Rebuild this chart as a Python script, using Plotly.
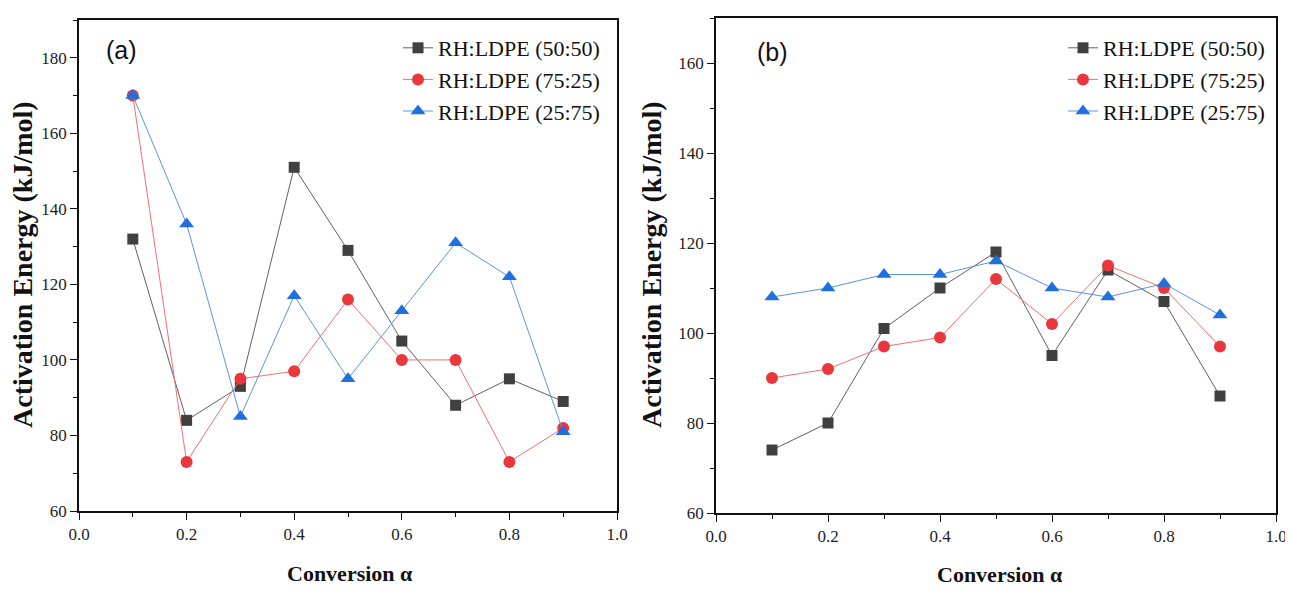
import plotly.graph_objects as go

conversion = [0.1, 0.2, 0.3, 0.4, 0.5, 0.6, 0.7, 0.8, 0.9]
series_names = ["RH:LDPE (50:50)", "RH:LDPE (75:25)", "RH:LDPE (25:75)"]

a_5050 = [132, 84, 93, 151, 129, 105, 88, 95, 89]
a_7525 = [170, 73, 95, 97, 116, 100, 100, 73, 82]
a_2575 = [170, 136, 85, 117, 95, 113, 131, 122, 81]

b_5050 = [74, 80, 101, 110, 118, 95, 114, 107, 86]
b_7525 = [90, 92, 97, 99, 112, 102, 115, 110, 97]
b_2575 = [108, 110, 113, 113, 116, 110, 108, 111, 104]

x_ticks = [0.0, 0.2, 0.4, 0.6, 0.8, 1.0]
x_tick_labels = ["0.0", "0.2", "0.4", "0.6", "0.8", "1.0"]
a_y_ticks = [60, 80, 100, 120, 140, 160, 180]
b_y_ticks = [60, 80, 100, 120, 140, 160]

styles = [
    dict(marker_color="#404040", line_color="#606060", symbol="square", size=11),
    dict(marker_color="#E8383D", line_color="#F07070", symbol="circle", size=12),
    dict(marker_color="#1F6FDE", line_color="#5A93E6", symbol="triangle-up", size=13),
]

fig = go.Figure()

panels = [
    ("x", "y", "legend", [a_5050, a_7525, a_2575]),
    ("x2", "y2", "legend2", [b_5050, b_7525, b_2575]),
]
for xa, ya, leg, data in panels:
    for name, vals, st in zip(series_names, data, styles):
        fig.add_trace(go.Scatter(
            x=conversion, y=vals, name=name, mode="lines+markers",
            xaxis=xa, yaxis=ya, legend=leg,
            line=dict(color=st["line_color"], width=1),
            marker=dict(color=st["marker_color"], symbol=st["symbol"], size=st["size"]),
        ))

tickfont = dict(family="Liberation Serif", size=17, color="#222")
xtitlefont = dict(family="Liberation Serif", size=22, color="#111")
ytitlefont = dict(family="Liberation Serif", size=28, color="#111")

# page has an 8px body margin; figure sized to fill the remaining window
OFF = 8
W, H = 1285, 581


def px(x):
    return (x - OFF) / W


def py(y):
    return 1 - (y - OFF) / H


def xaxis(domain, anchor):
    return dict(
        domain=domain, anchor=anchor, range=[0, 1], automargin=False,
        tickvals=x_ticks, ticktext=x_tick_labels,
        ticks="outside", ticklen=7, tickwidth=1.2, tickcolor="#111",
        minor=dict(dtick=0.1, ticks="outside", ticklen=4, tickcolor="#111", tickwidth=1),
        showline=True, linecolor="#111", linewidth=1.8, mirror=True,
        showgrid=False, zeroline=False, tickfont=tickfont,
    )


def yaxis(domain, anchor, rng, ticks):
    return dict(
        domain=domain, anchor=anchor, range=rng, automargin=False,
        tickvals=ticks,
        ticks="outside", ticklen=7, tickwidth=1.2, tickcolor="#111",
        minor=dict(dtick=10, ticks="outside", ticklen=4, tickcolor="#111", tickwidth=1),
        showline=True, linecolor="#111", linewidth=1.8, mirror=True,
        showgrid=False, zeroline=False, tickfont=tickfont,
    )


legfont = dict(family="Liberation Serif", size=22, color="#111")
ann_common = dict(xref="paper", yref="paper", showarrow=False,
                  xanchor="center", yanchor="middle")
fig.update_layout(
    width=W, height=H,
    margin=dict(l=0, r=0, t=0, b=0, autoexpand=False),
    paper_bgcolor="white", plot_bgcolor="white",
    xaxis=xaxis([px(79), px(617)], "y"),
    yaxis=yaxis([py(511), py(20)], "x", [60, 190], a_y_ticks),
    xaxis2=xaxis([px(716), px(1276)], "y2"),
    yaxis2=yaxis([py(513), py(18)], "x2", [60, 170], b_y_ticks),
    legend=dict(x=px(605), y=py(27), xanchor="right", yanchor="top",
                font=legfont, bgcolor="rgba(0,0,0,0)", tracegroupgap=0, itemwidth=30),
    legend2=dict(x=1270 and px(1270), y=py(27), xanchor="right", yanchor="top",
                 font=legfont, bgcolor="rgba(0,0,0,0)", tracegroupgap=0, itemwidth=30),
    showlegend=True,
    annotations=[
        dict(text="(a)", x=px(121), y=py(50),
             font=dict(family="Liberation Sans", size=25, color="#111"), **ann_common),
        dict(text="(b)", x=px(772), y=py(52),
             font=dict(family="Liberation Sans", size=25, color="#111"), **ann_common),
        dict(text="<b>Activation Energy (kJ/mol)</b>", x=px(22), y=py(265),
             textangle=-90, font=ytitlefont, **ann_common),
        dict(text="<b>Activation Energy (kJ/mol)</b>", x=px(651), y=py(265),
             textangle=-90, font=ytitlefont, **ann_common),
        dict(text="<b>Conversion α</b>", x=px(350), y=py(573),
             font=xtitlefont, **ann_common),
        dict(text="<b>Conversion α</b>", x=px(1000), y=py(574),
             font=xtitlefont, **ann_common),
    ],
)

fig.write_html("out.html")
